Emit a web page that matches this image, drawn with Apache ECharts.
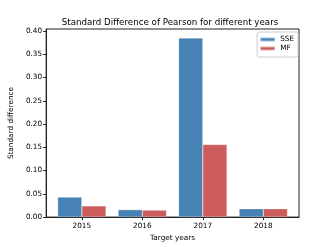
<!DOCTYPE html>
<html><head><meta charset="utf-8">
<script src="https://cdn.jsdelivr.net/npm/echarts@6/dist/echarts.min.js"></script>
<style>html,body{margin:0;padding:0;background:#fff}#c{width:332px;height:247px}</style>
</head><body><div id="c"></div>
<script>
const years = ['2015', '2016', '2017', '2018'];
const sse = [0.043, 0.016, 0.385, 0.018];
const mf = [0.024, 0.015, 0.156, 0.018];
const yTicks = [0, 0.05, 0.10, 0.15, 0.20, 0.25, 0.30, 0.35, 0.40];
const xTicks = years.map((_, i) => i);

const font = 'DejaVu Sans';
const chart = echarts.init(document.getElementById('c'), null, {renderer: 'canvas'});
chart.setOption({
  animation: false,
  title: {
    text: 'Standard Difference of Pearson for different years',
    left: 170, top: 18, textAlign: 'center', padding: 0,
    textStyle: {fontFamily: font, fontSize: 8.7, fontWeight: 'normal', color: '#000'}
  },
  legend: {
    orient: 'vertical', right: 34, top: 32,
    itemWidth: 15, itemHeight: 4, itemGap: 2,
    borderColor: '#ccc', borderWidth: 1, borderRadius: 2,
    padding: [4, 4, 5, 2],
    textStyle: {fontFamily: font, fontSize: 7.3, color: '#000'},
    data: ['SSE', 'MF']
  },
  grid: {left: 42, right: 33, top: 29, bottom: 28, show: true, borderColor: '#222', borderWidth: 1, containLabel: false},
  xAxis: {
    type: 'value', min: -0.59, max: 3.59,
    splitLine: {show: false},
    axisLine: {show: true, onZero: false, lineStyle: {color: '#222'}},
    axisTick: {show: true, length: 3, customValues: xTicks, lineStyle: {color: '#222'}},
    axisLabel: {customValues: xTicks, formatter: v => years[Math.round(v)] || '', fontFamily: font, fontSize: 7.3, color: '#000', margin: 6},
    name: 'Target years', nameLocation: 'middle', nameGap: 17,
    nameTextStyle: {fontFamily: font, fontSize: 7.3, color: '#000'}
  },
  yAxis: {
    type: 'value', min: 0, max: 0.4043,
    splitLine: {show: false},
    axisLine: {show: true, onZero: false, lineStyle: {color: '#222'}},
    axisTick: {show: true, length: 3, customValues: yTicks, lineStyle: {color: '#222'}},
    axisLabel: {customValues: yTicks, formatter: v => v.toFixed(2), fontFamily: font, fontSize: 7.3, color: '#000', margin: 4},
    name: 'Standard difference', nameLocation: 'middle', nameGap: 27,
    nameTextStyle: {fontFamily: font, fontSize: 7.3, color: '#000'}
  },
  series: [
    {name: 'SSE', type: 'bar', data: sse.map((v, i) => [i, v]), barCategoryGap: '20%', barGap: '0%',
     itemStyle: {color: '#4682B4', borderColor: 'rgba(255,255,255,0.5)', borderWidth: 0.5}},
    {name: 'MF', type: 'bar', data: mf.map((v, i) => [i, v]), barCategoryGap: '20%', barGap: '0%',
     itemStyle: {color: '#CD5C5C', borderColor: 'rgba(255,255,255,0.5)', borderWidth: 0.5}}
  ]
});
</script></body></html>
